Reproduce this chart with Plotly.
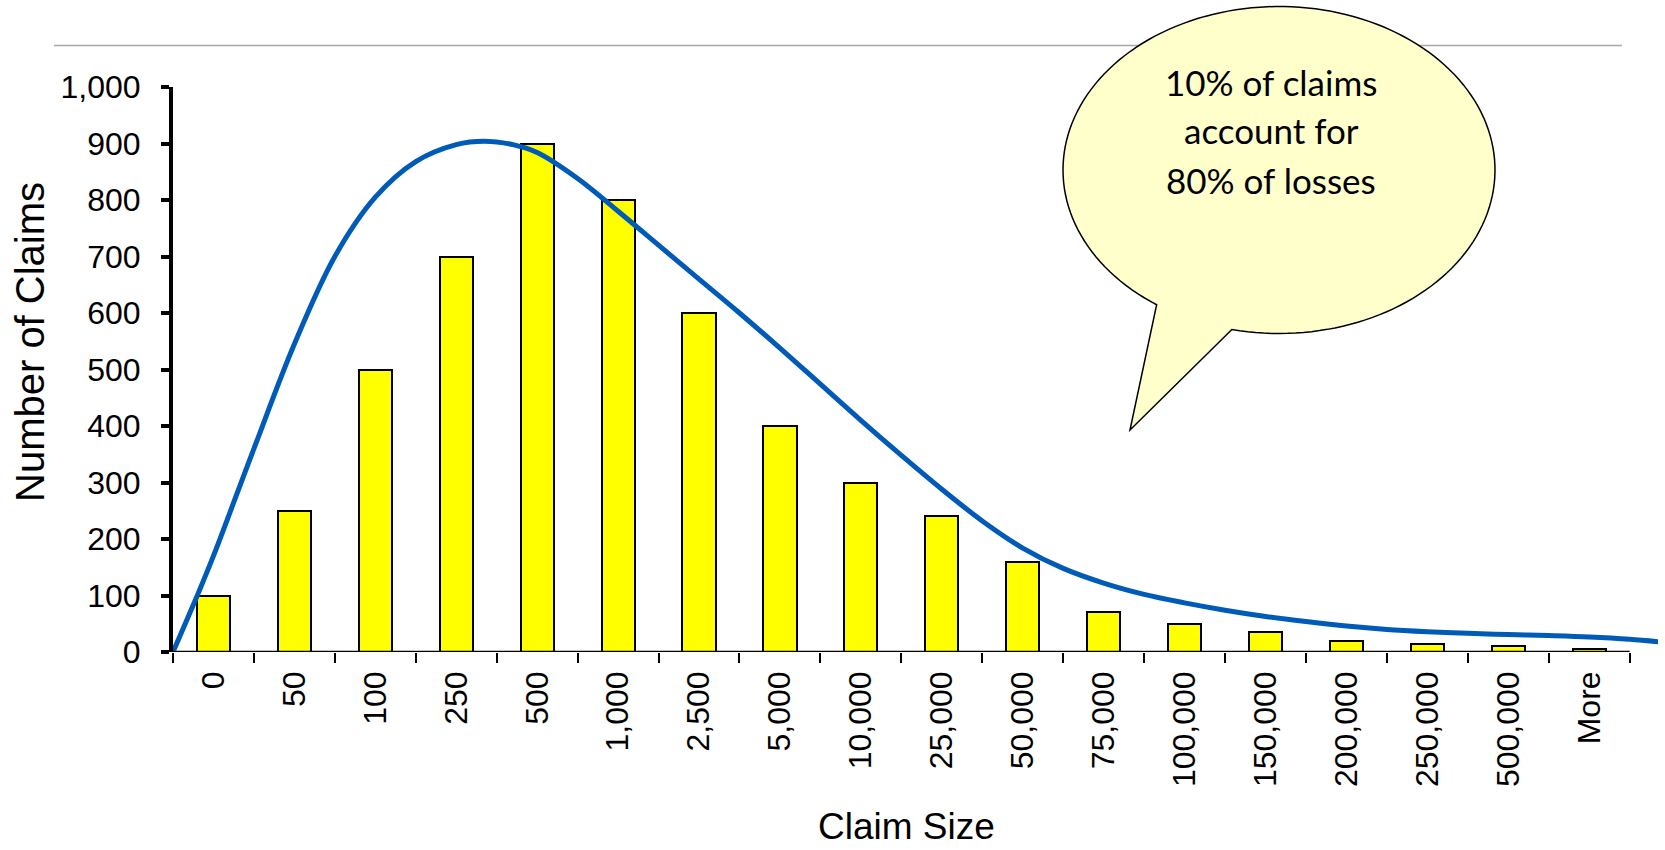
import numpy as np
import plotly.graph_objects as go

# ---------------- data ----------------
categories = ["0", "50", "100", "250", "500", "1,000", "2,500", "5,000", "10,000",
              "25,000", "50,000", "75,000", "100,000", "150,000", "200,000",
              "250,000", "500,000", "More"]
claims = [100, 250, 500, 700, 900, 800, 600, 400, 300, 240, 160, 70, 50, 35, 20, 15, 10, 5]

# fitted curve (position in category units, value)
curve_pos = [-0.5, -0.2, 0.0, 0.5, 1.0, 1.5, 2.0, 2.5, 3.0, 3.35, 3.7, 4.0, 4.5, 5.0,
             5.5, 6.0, 6.5, 7.0, 7.5, 8.0, 8.5, 9.0, 9.5, 10.0, 10.5, 11.0, 11.5,
             12.0, 12.5, 13.0, 13.5, 14.0, 14.5, 15.0, 15.5, 16.0, 16.5, 17.0, 17.5, 17.87]
curve_val = [0, 100, 170, 360, 545, 700, 805, 868, 898, 904, 898, 884, 838, 780,
             720, 660, 600, 538, 474, 410, 348, 288, 232, 184, 148, 122, 102,
             87, 74, 63, 54, 46, 40, 36, 33, 31, 29, 26.5, 22.5, 18]

y_ticks = [0, 100, 200, 300, 400, 500, 600, 700, 800, 900, 1000]
bubble_lines = ["10% of claims", "account for", "80% of losses"]

# ---------------- layout geometry ----------------
W, H = 1665, 850
L, R, T, B = 173, 7, 87, 198
PW, PH = W - L - R, H - T - B
X_MAX = 17.85


def px(xp):
    return (xp - L) / PW


def py(yp):
    return (H - B - yp) / PH


fig = go.Figure()
fig.add_trace(go.Bar(
    x=list(range(len(categories))), y=claims, width=0.41,
    marker=dict(color="#ffff00", line=dict(color="black", width=2)),
    showlegend=False, hoverinfo="y"))
fig.add_trace(go.Scatter(
    x=curve_pos, y=curve_val, mode="lines",
    line=dict(color="#005bb8", width=5, shape="spline", smoothing=1.0),
    showlegend=False))

# x-axis baseline ending at the last category boundary
fig.add_shape(type="line", xref="x", yref="y", x0=-0.5, x1=len(categories) - 0.5, y0=0, y1=0,
              line=dict(color="black", width=2.5), layer="above")

# top grey rule
fig.add_shape(type="line", xref="paper", yref="paper", x0=px(54), x1=px(1622), y0=py(45.5), y1=py(45.5),
              line=dict(color="#a6a6a6", width=1.5))

# speech bubble
cx, cy, rx, ry = 1279, 170, 216, 163.5
t = np.radians(np.linspace(124.5, 462.6, 160))
xs = cx + rx * np.cos(t)
ys = cy + ry * np.sin(t)
path = "M {:.5f},{:.5f} ".format(px(xs[0]), py(ys[0]))
for a, b in zip(xs[1:], ys[1:]):
    path += "L {:.5f},{:.5f} ".format(px(a), py(b))
path += "L {:.5f},{:.5f} Z".format(px(1130), py(430))
fig.add_shape(type="path", xref="paper", yref="paper", path=path,
              fillcolor="#ffffcc", line=dict(color="black", width=1.5), layer="above")

for txt, yy in zip(bubble_lines, [82, 130, 180]):
    fig.add_annotation(x=px(1271), y=py(yy), xref="paper", yref="paper", text=txt, showarrow=False,
                       xanchor="center", yanchor="middle",
                       font=dict(family="Lato, Open Sans, sans-serif", size=35, color="black"))

# axis titles
fig.add_annotation(x=px(30), y=py(342), xref="paper", yref="paper", text="Number of Claims",
                   textangle=-90, showarrow=False, xanchor="center", yanchor="middle",
                   font=dict(family="Liberation Sans, Arial, sans-serif", size=40, color="black"))
fig.add_annotation(x=px(906), y=py(826), xref="paper", yref="paper", text="Claim Size",
                   showarrow=False, xanchor="center", yanchor="middle",
                   font=dict(family="Liberation Sans, Arial, sans-serif", size=37, color="black"))

fig.update_layout(
    width=W, height=H, margin=dict(l=L, r=R, t=T, b=B),
    paper_bgcolor="white", plot_bgcolor="white", bargap=0,
    font=dict(family="Liberation Sans, Arial, sans-serif", color="black"),
    xaxis=dict(range=[-0.5, X_MAX], tickmode="array", tickvals=list(range(len(categories))),
               ticktext=categories, tickangle=-90, ticks="", showline=False, showgrid=False,
               zeroline=False, tickfont=dict(size=32, color="black"), ticklabelstandoff=12,
               minor=dict(tickmode="array", tickvals=[i - 0.5 for i in range(len(categories) + 1)],
                          ticks="outside", ticklen=10, tickwidth=2, tickcolor="black", showgrid=False)),
    yaxis=dict(range=[0, 1000], tickmode="array", tickvals=y_ticks, tickformat=",d",
               ticks="outside", ticklen=8, tickwidth=3.5, tickcolor="black",
               showline=True, linewidth=4, linecolor="black", showgrid=False, zeroline=False,
               tickfont=dict(size=32, color="black"), ticklabelstandoff=14),
)

fig.write_html("out.html")
